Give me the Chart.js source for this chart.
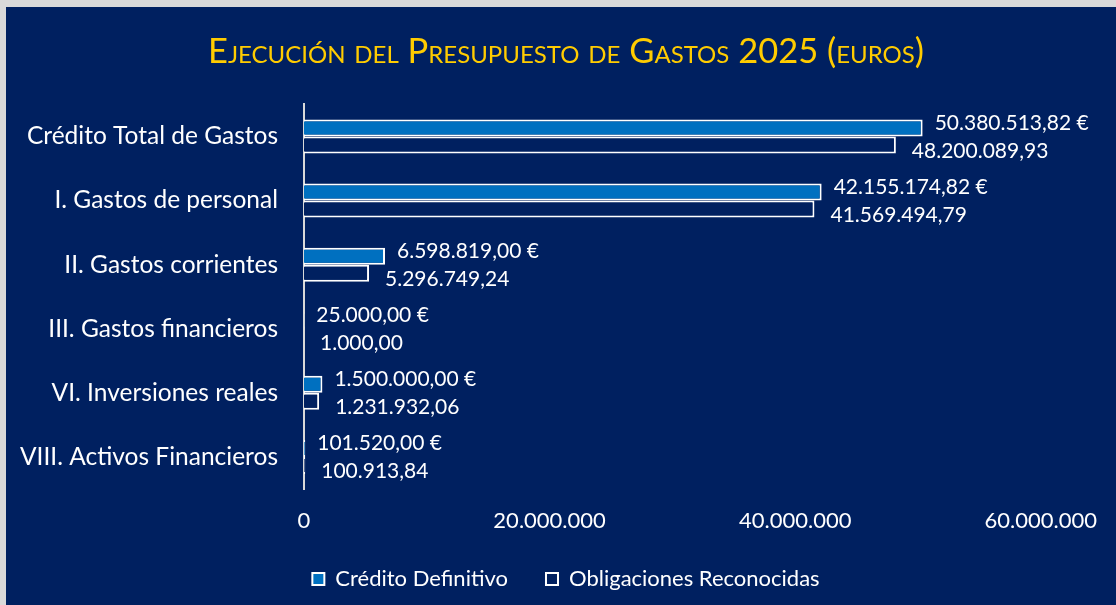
<!DOCTYPE html>
<html lang="es">
<head>
<meta charset="utf-8">
<title>Ejecución del Presupuesto de Gastos 2025</title>
<script src="https://cdn.jsdelivr.net/npm/chart.js@4.4.1/dist/chart.umd.min.js"></script>
<style>
    body { margin: 0; background: #d9d9d9; }
    #grafico { position: absolute; left: 6px; top: 7px; width: 1110px; height: 598px; background: #002060; }
</style>
</head>
<body>
<div id="grafico"><canvas id="presupuesto"></canvas></div>
<script>
const categorias = [
    "Crédito Total de Gastos",
    "I. Gastos de personal",
    "II. Gastos corrientes",
    "III. Gastos financieros",
    "VI. Inversiones reales",
    "VIII. Activos Financieros"
];
const creditoDefinitivo = [50380513.82, 42155174.82, 6598819.00, 25000.00, 1500000.00, 101520.00];
const obligacionesReconocidas = [48200089.93, 41569494.79, 5296749.24, 1000.00, 1231932.06, 100913.84];
const ticksEjeX = [0, 20000000, 40000000, 60000000];
// el eje sigue un poco despues del ultimo tick (hueco a la derecha como en Excel)
const ejeXMax = 65930000;

// formato espanol con punto de miles siempre (1.000,00)
function formato(valor, decimales) {
    let partes = valor.toFixed(decimales).split(".");
    let entero = partes[0].replace(/\B(?=(\d{3})+(?!\d))/g, ".");
    return partes[1] ? entero + "," + partes[1] : entero;
}

const etiquetasBarras = {
    id: "etiquetasBarras",
    afterDatasetsDraw(chart) {
        let ctx = chart.ctx;
        ctx.save();
        ctx.font = "21px Lato";
        ctx.fillStyle = "#ffffff";
        ctx.textAlign = "left";
        ctx.textBaseline = "middle";
        chart.data.datasets.forEach((dataset, i) => {
            let meta = chart.getDatasetMeta(i);
            meta.data.forEach((barra, j) => {
                let texto = formato(dataset.data[j], 2) + (i == 0 ? " €" : "");
                let x = barra.x + (i == 0 ? 12 : 16);
                let y = barra.y + (i == 0 ? -5 : 6);
                ctx.fillText(texto, x, y);
            });
        });
        ctx.restore();
    }
};

new Chart(document.getElementById("presupuesto"), {
    type: "bar",
    data: {
        labels: categorias,
        datasets: [{
            label: "Crédito Definitivo",
            data: creditoDefinitivo,
            backgroundColor: "#0070c0",
            borderColor: "#ffffff",
            borderWidth: 2,
            categoryPercentage: 0.53,
            barPercentage: 1
        },
        {
            label: "Obligaciones Reconocidas",
            data: obligacionesReconocidas,
            backgroundColor: "#002060",
            borderColor: "#ffffff",
            borderWidth: 2,
            categoryPercentage: 0.53,
            barPercentage: 1
        }]
    },
    options: {
        indexAxis: "y",
        responsive: true,
        maintainAspectRatio: false,
        animation: false,
        layout: {
            padding: { left: 10, right: 0, top: 0, bottom: 5 }
        },
        scales: {
            x: {
                min: 0,
                max: ejeXMax,
                afterBuildTicks: scale => {
                    scale.ticks = ticksEjeX.map(v => ({ value: v }));
                },
                afterFit: scale => { scale.height = 41; },
                grid: { display: false, drawTicks: false },
                border: { display: false },
                ticks: {
                    color: "#ffffff",
                    font: { family: "Lato", size: 22 },
                    padding: 19,
                    maxRotation: 0,
                    callback: valor => formato(valor, 0)
                }
            },
            y: {
                afterFit: scale => { scale.width = 288; },
                grid: { display: false, drawTicks: false },
                border: { display: true, color: "#d9d9d9", width: 2 },
                ticks: {
                    color: "#ffffff",
                    font: { family: "Lato", size: 24.5 },
                    padding: 26
                }
            }
        },
        plugins: {
            title: {
                display: true,
                text: "Ejecución del Presupuesto de Gastos 2025 (euros)",
                color: "#ffcc00",
                font: { family: "Lato", size: 34.5, weight: "small-caps" },
                padding: { top: 24, bottom: 32 }
            },
            legend: {
                position: "bottom",
                labels: {
                    color: "#ffffff",
                    font: { family: "Lato", size: 22 },
                    boxWidth: 12,
                    boxHeight: 12,
                    padding: 38
                }
            },
            tooltip: { enabled: false }
        }
    },
    plugins: [etiquetasBarras]
});
</script>
</body>
</html>
